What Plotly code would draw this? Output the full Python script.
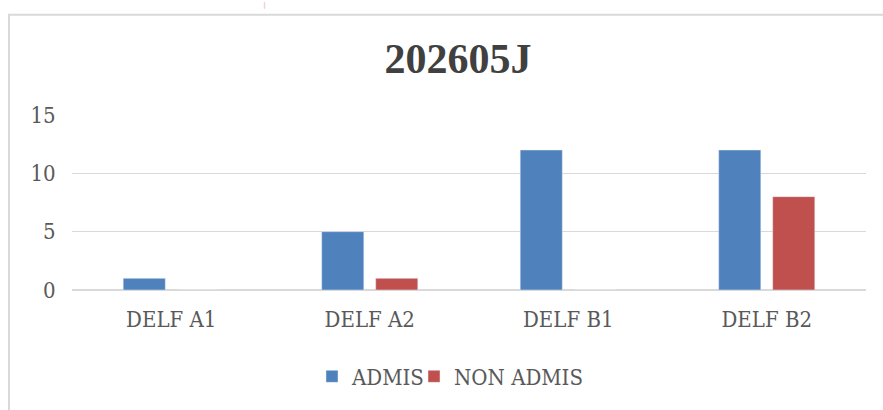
import plotly.graph_objects as go

categories = ["DELF A1", "DELF A2", "DELF B1", "DELF B2"]
admis = [1, 5, 12, 12]
non_admis = [0, 1, 0, 8]
title_text = "202605J"

W, H = 883, 410
L, R, T, B = 72, 17, 115, 117
pw, ph = W - L - R, H - T - B

def px_x(x):
    return (x - L) / pw

def px_y(y):
    return (H - B - y) / ph

font_fam = "DejaVu Serif Condensed, Liberation Serif, serif"
title_fam = "Liberation Serif"
txt_col = "#595959"

fig = go.Figure()
fig.add_trace(go.Bar(x=categories, y=admis, name="ADMIS", marker_color="#4F81BD",
                     legend="legend"))
fig.add_trace(go.Bar(x=categories, y=non_admis, name="NON ADMIS", marker_color="#C0504D",
                     legend="legend2"))

leg_common = dict(orientation="h", xanchor="left", yanchor="middle", y=px_y(381),
                  font=dict(family=font_fam, size=22, color=txt_col),
                  bgcolor="rgba(0,0,0,0)", borderwidth=0)

fig.update_layout(
    width=W, height=H,
    margin=dict(l=L, r=R, t=T, b=B),
    paper_bgcolor="white", plot_bgcolor="white",
    barmode="group", bargap=0.456, bargroupgap=0.22,
    font=dict(family=font_fam, size=22, color=txt_col),
    title=dict(text="<b>" + title_text + "</b>", x=458 / W, xref="container",
               y=1 - 58 / H, yref="container", xanchor="center", yanchor="middle",
               font=dict(family=title_fam, size=42, color="#404040")),
    legend=dict(x=px_x(312), **leg_common),
    legend2=dict(x=px_x(414), **leg_common),
    showlegend=True,
    xaxis=dict(showgrid=False, showline=True, linecolor="#d9d9d9", linewidth=1,
               ticks="outside", ticklen=10, tickcolor="rgba(0,0,0,0)"),
    yaxis=dict(range=[0, 15], tickvals=[0, 5, 10, 15], showgrid=True,
               gridcolor="#d9d9d9", gridwidth=1, zeroline=True, zerolinecolor="#d9d9d9",
               ticks="outside", ticklen=11, tickcolor="rgba(0,0,0,0)"),
    shapes=[
        dict(type="rect", xref="paper", yref="paper",
             x0=px_x(9), x1=px_x(W + 20), y0=px_y(H + 20), y1=px_y(13),
             line=dict(color="#d9d9d9", width=2), fillcolor="rgba(0,0,0,0)", layer="below"),
        dict(type="line", xref="paper", yref="paper",
             x0=px_x(264.5), x1=px_x(264.5), y0=px_y(7), y1=px_y(0),
             line=dict(color="#f0d0dc", width=1.5)),
    ],
)

fig.write_html("out.html", config={"displayModeBar": False},
               post_script="document.body.style.margin='0';document.body.style.overflow='hidden';")
